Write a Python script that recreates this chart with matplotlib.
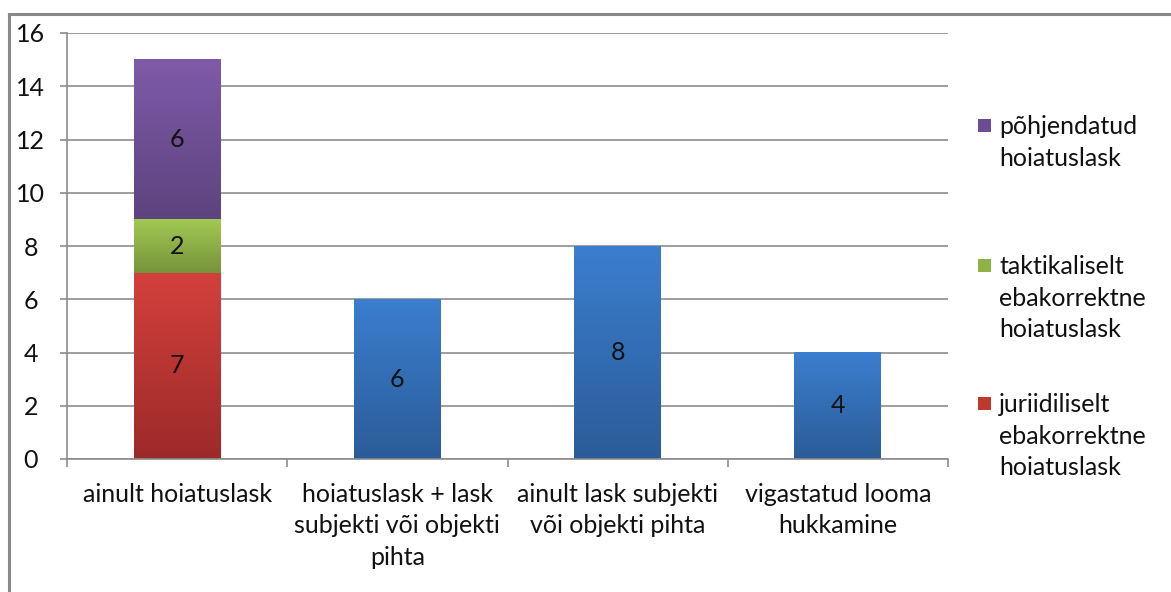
import matplotlib
matplotlib.use("Agg")
import matplotlib.pyplot as plt
import numpy as np
from matplotlib.colors import to_rgb
from matplotlib.lines import Line2D
from matplotlib.patches import Rectangle

plt.rcParams["font.family"] = ["Lato", "DejaVu Sans"]

categories = [
    "ainult hoiatuslask",
    "hoiatuslask + lask\nsubjekti või objekti\npihta",
    "ainult lask subjekti\nvõi objekti pihta",
    "vigastatud looma\nhukkamine",
]
# stacked series for the first category
stack_labels = [
    "juriidiliselt\nebakorrektne\nhoiatuslask",
    "taktikaliselt\nebakorrektne\nhoiatuslask",
    "põhjendatud\nhoiatuslask",
]
stack_values = [7, 2, 6]
stack_top = ["#d3403c", "#a2c852", "#7f5aa8"]
stack_bottom = ["#9c2a29", "#76933b", "#5d437f"]
# single series for the other categories
other_values = [6, 8, 4]
blue_top, blue_bottom = "#3b7ecf", "#2b5c98"
legend_colors = ["#c0392f", "#8db346", "#6b4c95"]

yticks = [0, 2, 4, 6, 8, 10, 12, 14, 16]
FS = 18
LS = 1.45
TXT = "#111111"
BAR_W = 0.395


def grad_bar(ax, x, bottom, height, top_c, bot_c):
    n = 64
    t = np.linspace(0, 1, n)[:, None]
    c1 = np.array(to_rgb(top_c))
    c0 = np.array(to_rgb(bot_c))
    img = (c0 * (1 - t) + c1 * t)[:, None, :]
    ax.imshow(img, extent=[x - BAR_W / 2, x + BAR_W / 2, bottom, bottom + height],
              origin="lower", aspect="auto", zorder=2, interpolation="bilinear")


fig = plt.figure(figsize=(11.71, 5.92), dpi=100)
ax = fig.add_axes([67 / 1171, 133 / 592, 881 / 1171, 426 / 592])

x = np.arange(len(categories))
bottom = 0
for v, ct, cb in zip(stack_values, stack_top, stack_bottom):
    grad_bar(ax, x[0], bottom, v, ct, cb)
    ax.text(x[0], bottom + v / 2, str(v), ha="center", va="center", fontsize=FS, color=TXT, zorder=3)
    bottom += v
for xi, v in zip(x[1:], other_values):
    grad_bar(ax, xi, 0, v, blue_top, blue_bottom)
    ax.text(xi, v / 2, str(v), ha="center", va="center", fontsize=FS, color=TXT, zorder=3)

ax.set_xlim(-0.5, len(categories) - 0.5)
ax.set_ylim(0, 16)
ax.set_yticks(yticks)
ax.set_yticklabels([str(t) for t in yticks])
ax.yaxis.grid(True, color="#8c8c8c", linewidth=1.2, zorder=0)
ax.set_axisbelow(True)

ax.set_xticks(x)
ax.set_xticklabels(categories, fontsize=FS, linespacing=LS, color=TXT)
ax.set_xticks(np.arange(len(categories) + 1) - 0.5, minor=True)
ax.tick_params(axis="x", which="major", length=0, pad=17)
ax.tick_params(axis="x", which="minor", length=6, width=1.2, color="#8c8c8c")
ax.tick_params(axis="y", length=5, width=1.2, color="#8c8c8c", labelsize=FS, labelcolor=TXT, pad=21)
for lab in ax.get_yticklabels():
    lab.set_ha("center")

for s in ["top", "right"]:
    ax.spines[s].set_visible(False)
for s in ["left", "bottom"]:
    ax.spines[s].set_color("#8c8c8c")
    ax.spines[s].set_linewidth(1.2)

# legend drawn by hand, Excel style
leg_y = [125, 265, 403]
for lab, col, yy in zip(stack_labels[::-1], legend_colors[::-1], leg_y):
    fig.patches.append(Rectangle((978 / 1171, 1 - (yy + 7) / 592), 13 / 1171, 13 / 592,
                                 transform=fig.transFigure, facecolor=col, edgecolor="none"))
    fig.text(999 / 1171, 1 - (yy - 10) / 592, lab, ha="left", va="top", fontsize=FS,
             linespacing=LS, color=TXT)

# outer chart border (clipped by image edge)
fig.add_artist(Line2D([9 / 1171, 1.0], [1 - 14 / 592] * 2, color="#8a8a8a", linewidth=2.2))
fig.add_artist(Line2D([9 / 1171] * 2, [1 - 14 / 592, 0], color="#8a8a8a", linewidth=2.2))

fig.savefig("out.png", dpi=100)
